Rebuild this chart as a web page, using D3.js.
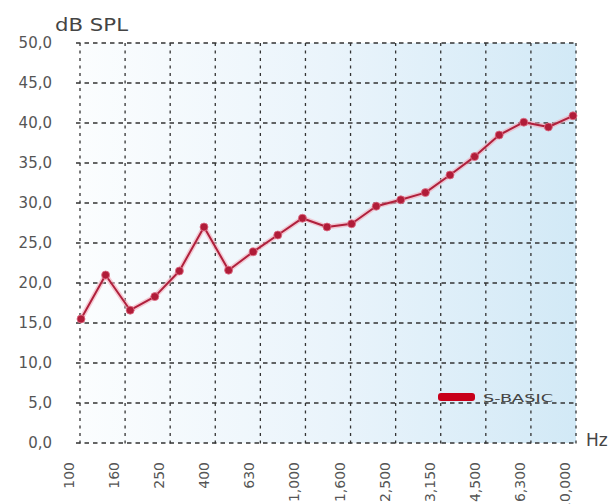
<!DOCTYPE html>
<html><head><meta charset="utf-8">
<script src="https://cdn.jsdelivr.net/npm/d3@7"></script>
<style>body{margin:0;background:#fff}svg{display:block}text{font-family:"DejaVu Sans",Verdana,sans-serif}</style>
</head><body><svg id="c" width="613" height="504"></svg>
<script>
const categories = ["100","125","160","200","250","315","400","500","630","800","1000","1250","1600","2000","2500","3150","4000","5000","6300","8000","10000"];
const values = [15.5,21.0,16.6,18.3,21.5,27.0,21.6,23.9,26.0,28.1,27.0,27.4,29.6,30.4,31.3,33.5,35.8,38.5,40.1,39.5,40.9];
const tickLabels = ["100","160","250","400","630","1,000","1,600","2,500","3,150","4,500","6,300","10,000"];
const yTicks = [0,5,10,15,20,25,30,35,40,45,50];
const seriesName = "S-BASIC";

const svg = d3.select("#c");
const L = 80, R = 576, T = 43, B = 443;
const y = d3.scaleLinear().domain([0,50]).range([B,T]);
const xPts = d3.scalePoint().domain(categories).range([81,573]);
const xGrid = d3.scalePoint().domain(tickLabels).range([L,R]);

const defs = svg.append("defs");
const g = defs.append("linearGradient").attr("id","bg").attr("x1","0").attr("x2","1").attr("y1","0").attr("y2","0");
g.append("stop").attr("offset","0").attr("stop-color","#fbfdfe");
g.append("stop").attr("offset","0.5").attr("stop-color","#eaf4fb");
g.append("stop").attr("offset","1").attr("stop-color","#d2e9f6");
svg.append("rect").attr("x",L).attr("y",T).attr("width",R-L).attr("height",B-T).attr("fill","url(#bg)");

// horizontal grid
svg.append("g").selectAll("line").data(yTicks).join("line")
  .attr("x1",L-4).attr("x2",R).attr("y1",d=>y(d)).attr("y2",d=>y(d))
  .attr("stroke","#333").attr("stroke-width",1.3).attr("stroke-dasharray","4.5,4");
// vertical grid
svg.append("g").selectAll("line").data(tickLabels).join("line")
  .attr("x1",d=>xGrid(d)).attr("x2",d=>xGrid(d)).attr("y1",T).attr("y2",B+4)
  .attr("stroke","#333").attr("stroke-width",1.3).attr("stroke-dasharray","3,4.5");

// y labels
svg.append("g").selectAll("text").data(yTicks).join("text")
  .attr("x",52).attr("y",d=>y(d)+5).attr("text-anchor","end")
  .attr("font-size",15).attr("fill","#555")
  .text(d=>d.toFixed(1).replace(".",","));
// x labels
svg.append("g").selectAll("text").data(tickLabels).join("text")
  .attr("transform",d=>`translate(${xGrid(d)-6},${B+19}) rotate(-90)`)
  .attr("text-anchor","end").attr("font-size",14).attr("fill","#555")
  .text(d=>d);

svg.append("text").attr("x",55).attr("y",31).attr("font-size",18).attr("fill","#444")
  .attr("textLength",73).attr("lengthAdjust","spacingAndGlyphs").text("dB SPL");
svg.append("text").attr("x",586).attr("y",446).attr("font-size",17).attr("fill","#444").text("Hz");

// series
const line = d3.line().x((d,i)=>xPts(categories[i])).y(d=>y(d));
svg.append("path").datum(values).attr("d",line).attr("fill","none")
  .attr("stroke","#f4a8b8").attr("stroke-opacity",0.6).attr("stroke-width",5).attr("stroke-linejoin","round");
svg.append("path").datum(values).attr("d",line).attr("fill","none")
  .attr("stroke","#b0203c").attr("stroke-width",2).attr("stroke-linejoin","round");
svg.append("g").selectAll("circle").data(values).join("circle")
  .attr("cx",(d,i)=>xPts(categories[i])).attr("cy",d=>y(d)).attr("r",4)
  .attr("fill","#b01c38").attr("stroke","#e07088").attr("stroke-width",0.8);

// legend
svg.append("rect").attr("x",438).attr("y",393).attr("width",37).attr("height",8).attr("rx",3)
  .attr("fill","#c8001a");
svg.append("text").attr("x",483).attr("y",402).attr("font-size",11).attr("fill","#444")
  .attr("textLength",70).attr("lengthAdjust","spacingAndGlyphs").text(seriesName);
</script></body></html>
